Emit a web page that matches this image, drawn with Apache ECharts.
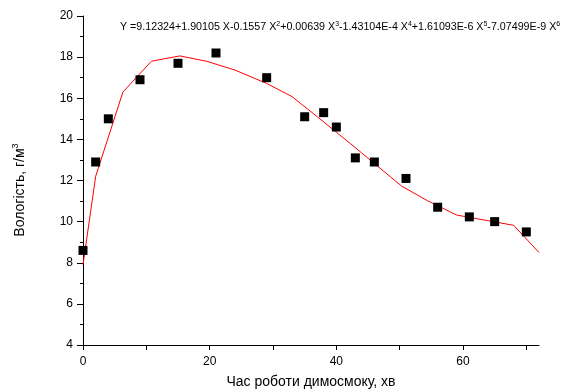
<!DOCTYPE html>
<html><head><meta charset="utf-8">
<script src="https://cdn.jsdelivr.net/npm/echarts@6/dist/echarts.min.js"></script>
<style>html,body{margin:0;padding:0;background:#fff}#c{width:562px;height:389px}</style>
</head><body><div id="c"></div>
<script>
// measured points
const pointX = [0, 2, 4, 9, 15, 21, 29, 35, 38, 40, 43, 46, 51, 56, 61, 65, 70];
const pointY = [8.6, 12.9, 15.0, 16.9, 17.7, 18.2, 17.0, 15.1, 15.3, 14.6, 13.1, 12.9, 12.1, 10.7, 10.23, 10.0, 9.5];
// fitted curve as drawn
const fitX = [0, 2, 6.3, 10.8, 15.3, 19.5, 24, 29, 33, 37, 42.2, 50.3, 54.5, 59, 63.5, 68, 72];
const fitY = [7.9, 12.2, 16.3, 17.8, 18.06, 17.8, 17.37, 16.72, 16.08, 15.1, 13.8, 11.73, 11.0, 10.32, 10.07, 9.82, 8.5];
const xTicks = [0, 10, 20, 30, 40, 50, 60, 70];
const xLabels = [0, 20, 40, 60];
const xName = 'Час роботи димосмоку, хв';
const yName = 'Вологість, г/м{s|3}';
const equation = 'Y =9.12324+1.90105 X-0.1557 X{s|2}+0.00639 X{s|3}-1.43104E-4 X{s|4}+1.61093E-6 X{s|5}-7.07499E-9 X{s|6}';

const font = '"Liberation Sans", Arial, sans-serif';
const chart = echarts.init(document.getElementById('c'));
chart.setOption({
  animation: false,
  backgroundColor: '#fff',
  grid: {left: 83, right: 23, top: 16, bottom: 44, containLabel: false, outerBoundsMode: 'none'},
  xAxis: {
    type: 'value', min: 0, max: 72,
    axisLine: {show: true, onZero: false, lineStyle: {color: '#000', width: 1}},
    axisTick: {show: true, customValues: xTicks, length: 5, lineStyle: {color: '#000'}},
    axisLabel: {customValues: xLabels, color: '#000', fontSize: 12, fontFamily: font, margin: 11},
    splitLine: {show: false},
    name: xName, nameLocation: 'middle', nameGap: 30,
    nameTextStyle: {color: '#000', fontSize: 14, fontFamily: font}
  },
  yAxis: {
    type: 'value', min: 4, max: 20, interval: 2,
    axisLine: {show: true, onZero: false, lineStyle: {color: '#000', width: 1}},
    axisTick: {show: true, length: 6, lineStyle: {color: '#000'}},
    minorTick: {show: true, splitNumber: 2, length: 3, lineStyle: {color: '#000'}},
    axisLabel: {color: '#000', fontSize: 12, fontFamily: font, margin: 10},
    splitLine: {show: false}
  },
  graphic: [{
    type: 'text', left: 120, top: 21, silent: true,
    style: {
      text: equation, fill: '#000', fontSize: 10.7, fontFamily: font,
      rich: {s: {fontSize: 7, verticalAlign: 'top', padding: [0, 0, 5, 0], fontFamily: font, fill: '#000'}}
    }
  }, {
    type: 'text', x: 20, y: 190, rotation: Math.PI / 2, silent: true,
    style: {
      text: yName, fill: '#000', fontSize: 14, fontFamily: font, align: 'center', verticalAlign: 'middle',
      rich: {s: {fontSize: 9, verticalAlign: 'top', padding: [0, 0, 8, 0], fontFamily: font, fill: '#000'}}
    }
  }],
  series: [{
    type: 'line', data: fitX.map((x, i) => [x, fitY[i]]),
    showSymbol: false, symbol: 'none', smooth: false,
    lineStyle: {color: '#ff0000', width: 1}, z: 2
  }, {
    type: 'scatter', data: pointX.map((x, i) => [x, pointY[i]]),
    symbol: 'rect', symbolSize: 9, itemStyle: {color: '#000', opacity: 1}, z: 3
  }]
});
</script></body></html>
